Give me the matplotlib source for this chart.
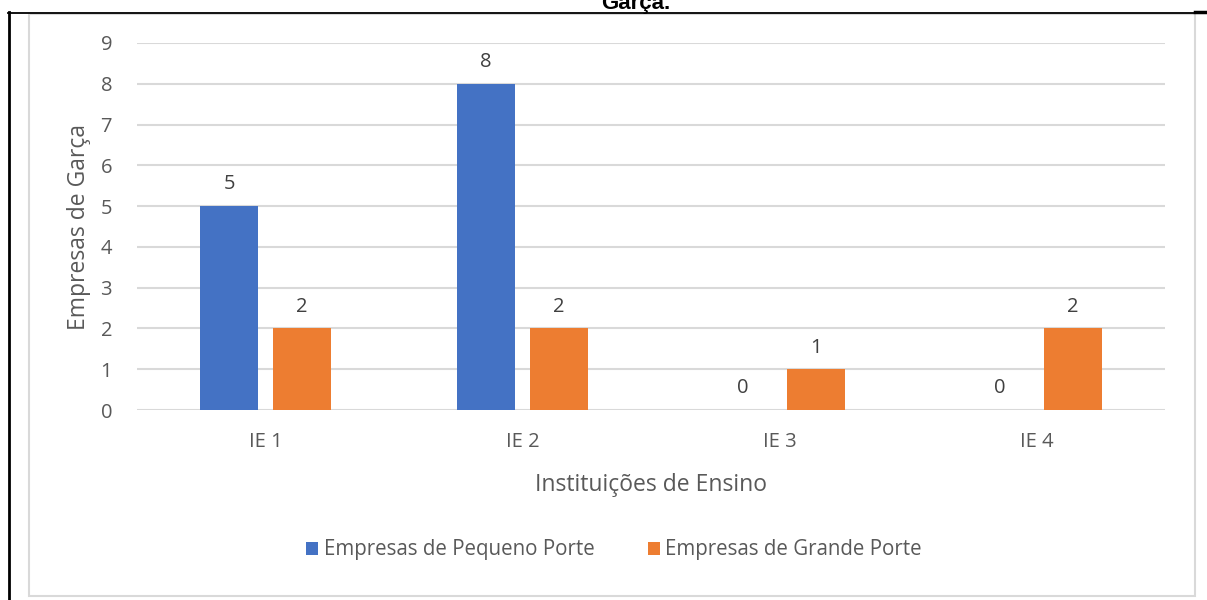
import matplotlib
matplotlib.use("Agg")
import matplotlib.pyplot as plt
import numpy as np
from matplotlib.lines import Line2D
from matplotlib.patches import Rectangle

categories = ["IE 1", "IE 2", "IE 3", "IE 4"]
pequeno_porte = [5, 8, 0, 0]
grande_porte = [2, 2, 1, 2]
series_names = ["Empresas de Pequeno Porte", "Empresas de Grande Porte"]
y_ticks = list(range(0, 10))

BLUE = "#4472C4"
ORANGE = "#ED7D31"
TEXT = "#595959"
GRID = "#D9D9D9"

plt.rcParams["font.family"] = ["Open Sans", "DejaVu Sans"]

W, H = 1207, 600
fig = plt.figure(figsize=(W / 100, H / 100), dpi=100)


def fx(px):
    return px / W


def fy(py):
    return 1 - py / H


# chart-area frame and the surrounding page rules
fig.add_artist(Rectangle((fx(28.5), fy(596)), fx(1195) - fx(28.5), fy(13.5) - fy(596),
                         transform=fig.transFigure, fill=False, edgecolor=GRID, linewidth=1.5))
fig.add_artist(Line2D([fx(8), fx(1195)], [fy(12.8), fy(12.8)], transform=fig.transFigure,
                      color="black", linewidth=1.3))
fig.add_artist(Line2D([fx(1195), fx(1207)], [fy(12.2), fy(12.2)], transform=fig.transFigure,
                      color="black", linewidth=2.5))
fig.add_artist(Line2D([fx(9), fx(9)], [fy(12), fy(600)], transform=fig.transFigure,
                      color="black", linewidth=2.0))

# caption text cut by the page edge
fig.text(fx(636), fy(8.5), "Garça.", ha="center", va="baseline", fontsize=16,
         fontweight="bold", family=["Liberation Sans", "DejaVu Sans"], color="black")

ax = fig.add_axes([fx(137), fy(410), fx(1165) - fx(137), fy(43) - fy(410)])

x = np.arange(len(categories))
bw = 0.222
off = 0.142
b1 = ax.bar(x - off, pequeno_porte, bw, color=BLUE, label=series_names[0], zorder=3)
b2 = ax.bar(x + off, grande_porte, bw, color=ORANGE, label=series_names[1], zorder=3)

for bars, vals in ((b1, pequeno_porte), (b2, grande_porte)):
    for rect, v in zip(bars, vals):
        ax.annotate(f"{v}", (rect.get_x() + rect.get_width() / 2, v),
                    xytext=(0, 12), textcoords="offset points",
                    ha="center", va="baseline", fontsize=14.5, color="#404040")

ax.set_xlim(-0.5, len(categories) - 0.5)
ax.set_ylim(0, 9)
ax.set_yticks(y_ticks)
ax.set_xticks(x)
ax.set_xticklabels(categories)
ax.tick_params(axis="both", length=0, labelsize=14.5, labelcolor=TEXT)
ax.tick_params(axis="y", pad=18)
ax.tick_params(axis="x", pad=16)
ax.yaxis.grid(True, color=GRID, linewidth=1.5, zorder=0)
ax.set_axisbelow(True)
for s in ax.spines.values():
    s.set_visible(False)

ax.set_xlabel("Instituições de Ensino", fontsize=16.5, color=TEXT, labelpad=15)
ax.set_ylabel("Empresas de Garça", fontsize=16.5, color=TEXT, labelpad=7)

fig.legend(handles=[b1, b2], labels=series_names, loc="center",
           bbox_to_anchor=(fx(614), fy(550)), ncol=2, frameon=False,
           fontsize=14.8, labelcolor=TEXT, handlelength=0.6, handleheight=0.6,
           handletextpad=0.25, columnspacing=2.6)

fig.savefig("out.png", dpi=100)
